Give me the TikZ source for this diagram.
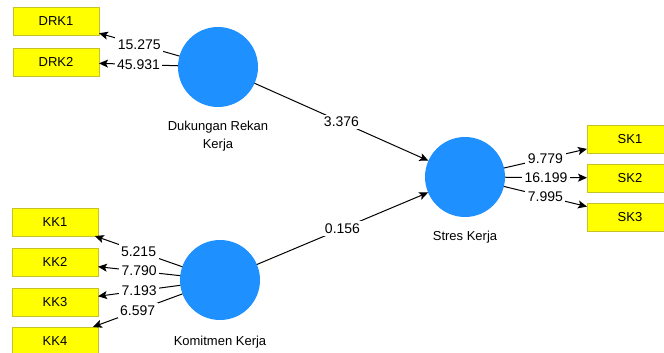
\documentclass[tikz,border=0pt]{standalone}
\usepackage{fontspec}
\setmainfont{Liberation Sans}
\usetikzlibrary{calc,arrows.meta}
\definecolor{latentblue}{RGB}{30,144,255}
\definecolor{itemyellow}{RGB}{255,255,0}
\definecolor{itemborder}{RGB}{196,196,40}
\newcommand{\typeLV}{latentblue}
\newcommand{\typeMV}{itemyellow}

\begin{document}
\begin{tikzpicture}[x=1pt,y=-1pt,inner sep=0in,outer sep=0in,
	latent/.style={circle,fill=\typeLV,minimum size=80pt},
	item/.style={rectangle,fill=\typeMV,draw=itemborder,line width=0.6pt,
		minimum width=86pt,minimum height=28pt,font=\fontsize{13}{14}\selectfont},
	caption/.style={align=center,font=\fontsize{13}{18}\selectfont},
	path/.style={draw=black,line width=1pt,-{Stealth[length=9pt,width=8pt,inset=2pt]}},
	weight/.style={fill=white,inner sep=2.5pt,font=\fontsize{14}{16}\selectfont}]
	\useasboundingbox (0,0) rectangle (664,353);
	\begin{scope}
	\clip (0,0) rectangle (664,353);
	% latent variables
	\node[latent] (drk) at (218,67) {};
	\node[latent] (kk) at (220,280) {};
	\node[latent] (sk) at (465,177) {};
	\node[caption] at (218,136) {Dukungan Rekan\\Kerja};
	\node[caption] at (220,342) {Komitmen Kerja};
	\node[caption] at (465,237) {Stres Kerja};

	% indicators
	\node[item] (drk1) at (56,21) {DRK1};
	\node[item] (drk2) at (56,62) {DRK2};
	\node[item] (kk1) at (55,222) {KK1};
	\node[item] (kk2) at (55,262) {KK2};
	\node[item] (kk3) at (55,302) {KK3};
	\node[item] (kk4) at (55,341) {KK4};
	\node[item] (sk1) at (630,139) {SK1};
	\node[item] (sk2) at (630,178) {SK2};
	\node[item] (sk3) at (630,217) {SK3};

	% outer loadings
	\draw[path] (drk) -- node[weight] {15.275} (drk1);
	\draw[path] (drk) -- node[weight] {45.931} (drk2);
	\draw[path] (kk) -- node[weight] {5.215} (kk1);
	\draw[path] (kk) -- node[weight] {7.790} (kk2);
	\draw[path] (kk) -- node[weight] {7.193} (kk3);
	\draw[path] (kk) -- node[weight] {6.597} (kk4);
	\draw[path] (sk) -- node[weight] {9.779} (sk1);
	\draw[path] (sk) -- node[weight] {16.199} (sk2);
	\draw[path] (sk) -- node[weight] {7.995} (sk3);

	% inner model
	\draw[path] (drk) -- node[weight] {3.376} (sk);
	\draw[path] (kk) -- node[weight] {0.156} (sk);
	\end{scope}
\end{tikzpicture}
\end{document}
